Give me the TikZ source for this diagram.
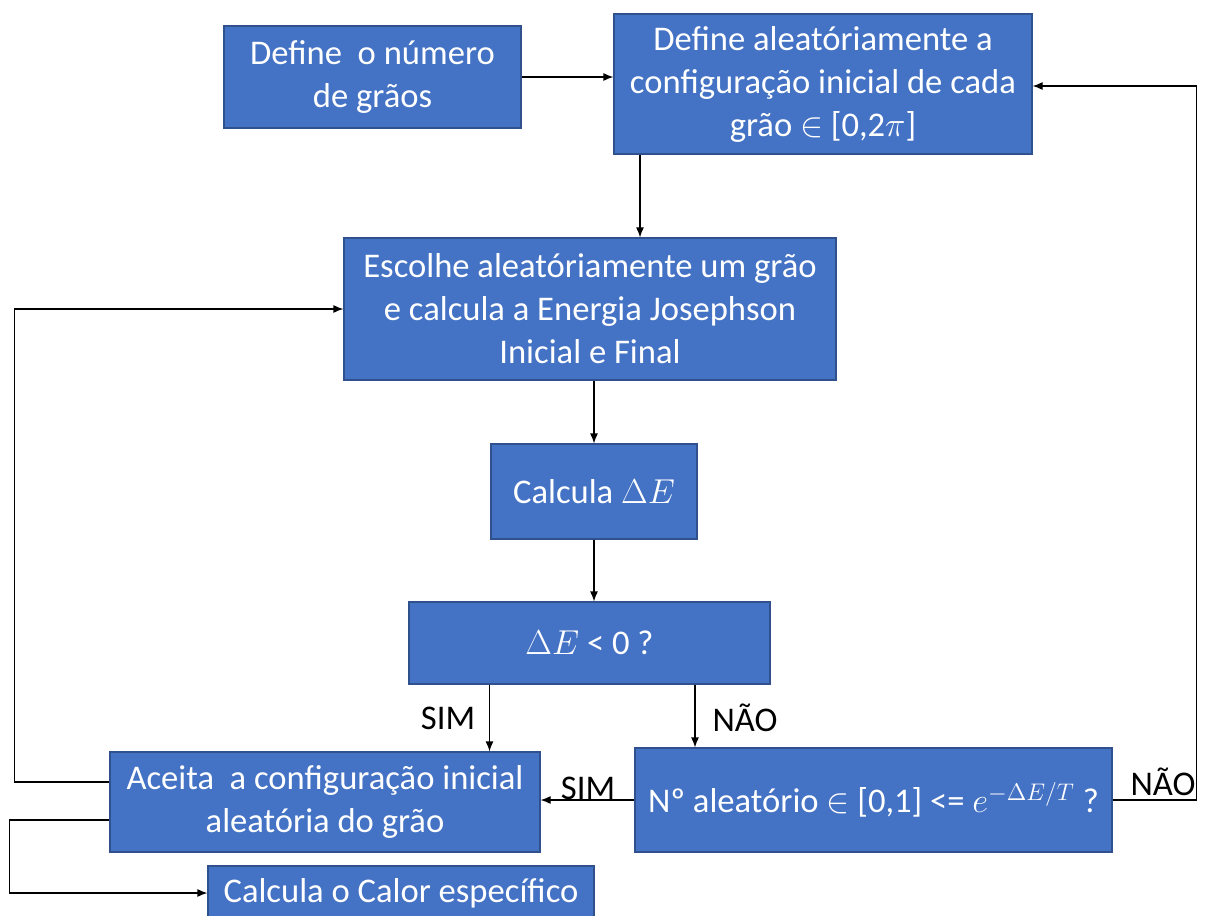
\documentclass[tikz,border=0pt]{standalone}
\usepackage{fontspec}
\setmainfont{Carlito}
\usetikzlibrary{arrows.meta}
\definecolor{caixa}{HTML}{4472C4}
\definecolor{borda}{HTML}{2F528F}

\begin{document}
\begin{tikzpicture}[x=0.5pt, y=-0.5pt, >={Latex[length=5pt,width=4pt]},
    font=\fontsize{17.3}{21.5}\selectfont,
    bloco/.style={draw=borda, fill=caixa, text=white, align=center,
      inner sep=0pt, line width=0.6pt},
    liga/.style={->, line width=0.6pt},
    rotulo/.style={text=black}]
  \useasboundingbox (0,0) rectangle (1216,916);
  % caixas
  \node[bloco, minimum width=148.5pt, minimum height=51pt] (ngraos) at (372.5,77)
    {Define\ \ o número\\de grãos};
  \node[bloco, minimum width=209pt, minimum height=70pt] (inicial) at (823,84)
    {Define aleatóriamente a\\configuração inicial de cada\\grão $\in$ [0,2$\pi$]};
  \node[bloco, minimum width=246pt, minimum height=71pt] (escolhe) at (590,309)
    {Escolhe aleatóriamente um grão\\e calcula a Energia Josephson\\Inicial e Final};
  \node[bloco, minimum width=103pt, minimum height=47.5pt] (deltaE) at (594,491.5)
    {Calcula $\Delta E$};
  \node[bloco, minimum width=180.5pt, minimum height=41pt] (teste) at (589.5,643)
    {$\Delta E$ < 0 ?};
  \node[bloco, minimum width=215pt, minimum height=50pt] (aceita) at (325,802)
    {Aceita\ \ a configuração inicial\\aleatória do grão};
  \node[bloco, minimum width=238.5pt, minimum height=52pt] (sorteio) at (873.5,800)
    {Nº aleatório $\in$ [0,1] <= $e^{-\Delta E/T}$ ?};
  \node[bloco, minimum width=193pt, minimum height=27pt] (calor) at (401,893)
    {Calcula o Calor específico};
  % ligacoes
  \draw[liga] (ngraos.east) -- (ngraos.east -| inicial.west);
  \path (inicial.south) ++(-183,0) coordinate (desce);
  \draw[liga] (desce) -- (desce |- escolhe.north);
  \draw[liga] (escolhe.south -| deltaE.north) -- (deltaE.north);
  \draw[liga] (deltaE.south) -- (deltaE.south |- teste.north);
  \path (teste.south) ++(-100,0) coordinate (sim);
  \path (teste.south) ++(105.5,0) coordinate (nao);
  \draw[liga] (sim) -- (sim |- aceita.north);
  \node[rotulo] (simA) at (448,718) {SIM};
  \draw[liga] (nao) -- (nao |- sorteio.north);
  \node[rotulo] (naoA) at (745,718) {NÃO};
  \draw[liga] (sorteio.west) -- (sorteio.west -| aceita.east);
  \node[rotulo] (simB) at (588,788) {SIM};
  \draw[liga] (sorteio.east) -- ++(84,0) |- ([yshift=-1pt]inicial.east);
  \node[rotulo] (naoB) at (1163,782) {NÃO};
  \draw[liga] ([yshift=10pt]aceita.west) -- ++(-95,0) |- (escolhe.west);
  \draw[liga] ([yshift=-9pt]aceita.west) -- ++(-100,0) |- (calor.west);
\end{tikzpicture}
\end{document}
